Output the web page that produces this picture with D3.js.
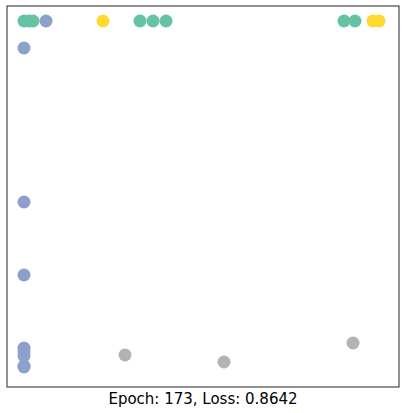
<!DOCTYPE html><html><head><script src="https://cdn.jsdelivr.net/npm/d3@7"></script>
<style>body{margin:0;background:#fff}</style></head><body><svg id="c" width="404" height="413"></svg>
<script>
const xs = [17,22,26,133,146,159,337,348, 39,17,17,17,17,17,17,17,17, 96,366,372, 118,217,346];
const ys = [366,366,366,366,366,366,366,366, 366,339,185,112,39,35,31,21,20, 366,366,366, 32,25,44];
const groups = [0,0,0,0,0,0,0,0, 1,1,1,1,1,1,1,1,1, 2,2,2, 3,3,3];
const palette = ["#66c2a5","#8da0cb","#ffd92f","#b3b3b3"];
const title = "Epoch: 173, Loss: 0.8642";
const svg = d3.select("#c");
const x = d3.scaleLinear().domain([0,392]).range([7,399]);
const y = d3.scaleLinear().domain([0,381]).range([387,6]);
svg.append("rect").attr("x",7).attr("y",6).attr("width",392).attr("height",381).attr("fill","none").attr("stroke","#222").attr("stroke-width",1);
svg.selectAll("circle").data(xs).join("circle")
 .attr("cx",(d,i)=>x(d)).attr("cy",(d,i)=>y(ys[i])).attr("r",6.5)
 .attr("fill",(d,i)=>palette[groups[i]]);
svg.append("text").attr("x",203).attr("y",404).attr("text-anchor","middle")
 .attr("font-family","DejaVu Sans").attr("font-size",15).text(title);
</script></body></html>
